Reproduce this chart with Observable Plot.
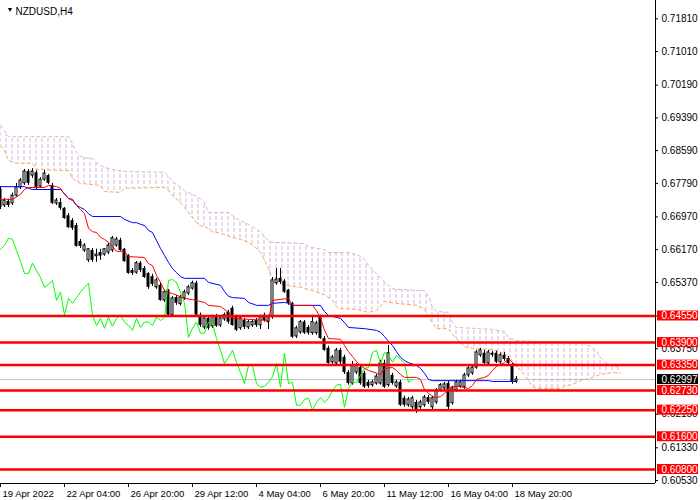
<!DOCTYPE html>
<html><head><meta charset="utf-8">
<script src="https://cdn.jsdelivr.net/npm/d3@7"></script>
<script src="https://cdn.jsdelivr.net/npm/@observablehq/plot@0.6"></script>
<style>
html,body{margin:0;padding:0;background:#fff;}
#chart{width:700px;height:500px;overflow:hidden;}
</style></head><body><div id="chart"></div>
<script>
// ---- Candles (H4 bars, index 0 = 19 Apr 2022 12:00) ----
const open  = [.6764,.6725,.6735,.6730,.6749,.6769,.6779,.6808,.6798,.6805,.6771,.6788,.6798,.6774,.6730,.6732,.6718,.6700,.6688,.6676,.6637,.6615,.6591,.6615,.6601,.6610,.6605,.6610,.6615,.6627,.6640,.6618,.6603,.6566,.6561,.6584,.6571,.6559,.6551,.6525,.6530,.6493,.6518,.6457,.6500,.6484,.6498,.6510,.6522,.6535,.6457,.6427,.6449,.6430,.6452,.6432,.6447,.6464,.6474,.6452,.6425,.6444,.6427,.6432,.6444,.6432,.6457,.6440,.6452,.6535,.6547,.6540,.6518,.6486,.6405,.6415,.6440,.6427,.6413,.6413,.6452,.6400,.6376,.6342,.6339,.6371,.6354,.6317,.6290,.6317,.6329,.6315,.6293,.6286,.6290,.6290,.6339,.6286,.6310,.6283,.6293,.6254,.6237,.6232,.6244,.6232,.6237,.6256,.6232,.6244,.6273,.6278,.6290,.6242,.6273,.6283,.6281,.6310,.6315,.6329,.6359,.6364,.6339,.6364,.6364,.6342,.6359,.6351,.6334,.6295];
const high  = [.6771,.6742,.6740,.6755,.6779,.6791,.6813,.6813,.6815,.6810,.6793,.6810,.6801,.6779,.6742,.6742,.6720,.6705,.6693,.6681,.6642,.6632,.6620,.6620,.6618,.6618,.6620,.6632,.6649,.6647,.6645,.6620,.6605,.6571,.6588,.6588,.6576,.6561,.6557,.6547,.6537,.6518,.6520,.6503,.6505,.6505,.6518,.6530,.6540,.6540,.6462,.6454,.6454,.6457,.6459,.6454,.6462,.6469,.6479,.6457,.6454,.6449,.6444,.6444,.6449,.6457,.6462,.6457,.6549,.6571,.6571,.6544,.6520,.6488,.6430,.6444,.6444,.6432,.6457,.6442,.6457,.6405,.6381,.6359,.6376,.6376,.6359,.6322,.6344,.6339,.6334,.6320,.6298,.6298,.6312,.6347,.6347,.6383,.6315,.6298,.6298,.6259,.6256,.6259,.6249,.6249,.6261,.6261,.6259,.6278,.6290,.6293,.6295,.6283,.6298,.6298,.6315,.6332,.6334,.6371,.6376,.6371,.6371,.6369,.6369,.6364,.6366,.6356,.6339,.6307];
const low   = [.6715,.6720,.6720,.6725,.6745,.6764,.6774,.6774,.6791,.6764,.6767,.6784,.6776,.6727,.6725,.6713,.6691,.6669,.6664,.6623,.6620,.6610,.6586,.6586,.6586,.6591,.6601,.6605,.6610,.6623,.6613,.6586,.6557,.6554,.6557,.6561,.6547,.6520,.6527,.6520,.6491,.6488,.6454,.6454,.6481,.6479,.6493,.6505,.6518,.6454,.6427,.6422,.6420,.6425,.6427,.6427,.6442,.6435,.6430,.6417,.6420,.6422,.6422,.6427,.6427,.6422,.6440,.6422,.6447,.6530,.6532,.6510,.6481,.6400,.6400,.6410,.6410,.6408,.6408,.6408,.6398,.6369,.6337,.6337,.6334,.6337,.6312,.6286,.6286,.6312,.6286,.6278,.6278,.6281,.6286,.6286,.6278,.6281,.6286,.6278,.6234,.6232,.6232,.6227,.6217,.6227,.6232,.6239,.6225,.6239,.6269,.6273,.6225,.6237,.6269,.6278,.6276,.6305,.6310,.6325,.6354,.6334,.6334,.6354,.6339,.6337,.6344,.6334,.6288,.6290];
const close = [.6720,.6737,.6725,.6749,.6769,.6786,.6808,.6779,.6808,.6769,.6788,.6803,.6779,.6730,.6737,.6718,.6693,.6671,.6669,.6625,.6625,.6627,.6618,.6591,.6605,.6601,.6618,.6627,.6645,.6642,.6615,.6588,.6559,.6559,.6584,.6566,.6549,.6525,.6532,.6542,.6493,.6513,.6457,.6498,.6486,.6500,.6513,.6525,.6535,.6457,.6432,.6449,.6425,.6452,.6430,.6449,.6457,.6440,.6432,.6420,.6449,.6427,.6440,.6440,.6432,.6452,.6444,.6452,.6542,.6544,.6537,.6513,.6486,.6403,.6425,.6440,.6413,.6413,.6440,.6437,.6400,.6371,.6339,.6354,.6371,.6342,.6317,.6290,.6334,.6334,.6290,.6281,.6283,.6293,.6307,.6339,.6281,.6364,.6290,.6293,.6237,.6237,.6251,.6254,.6225,.6244,.6256,.6244,.6254,.6273,.6286,.6288,.6232,.6278,.6293,.6293,.6310,.6327,.6329,.6366,.6371,.6339,.6366,.6359,.6342,.6359,.6349,.6339,.6293,.6300];

// ---- Ichimoku lines (bar index, price) ----
const tenkanBars = [0,3,5,6,7,11,12,14,15,16,17,18,19,20,21,22,23,24,25,26,27,28,29,31,32,36,37,38,39,40,41,42,43,46,48,51,52,55,57,58,67,68,72,73,78,79,80,81,82,85,86,87,88,89,90,91,92,95,96,98,99,100,101,104,105,106,107,108,109,110,111,112,113,115,116,117,118,119,121,122,123,124,125,126,127,128,129];
const tenkanVals = [.6740,.6740,.6752,.6764,.6769,.6769,.6774,.6771,.6767,.6752,.6742,.6737,.6725,.6715,.6705,.6669,.6661,.6659,.6647,.6642,.6635,.6625,.6613,.6613,.6600,.6598,.6583,.6578,.6554,.6537,.6517,.6512,.6510,.6498,.6495,.6488,.6481,.6478,.6464,.6449,.6444,.6493,.6498,.6481,.6481,.6468,.6451,.6420,.6400,.6398,.6383,.6368,.6356,.6344,.6334,.6327,.6322,.6312,.6327,.6329,.6322,.6312,.6305,.6305,.6300,.6275,.6266,.6258,.6256,.6258,.6266,.6278,.6283,.6283,.6280,.6278,.6285,.6300,.6305,.6310,.6322,.6332,.6337,.6341,.6351,.6341,.6332];
const kijunBars = [0,6,7,8,15,16,17,18,19,20,21,22,23,30,31,33,34,35,36,37,38,39,40,41,42,43,44,45,46,51,52,55,56,57,58,61,62,64,67,68,71,72,73,80,81,82,83,85,86,87,91,94,95,96,97,98,99,100,101,102,104,105,106,107,108,122,123,129];
const kijunVals = [.6771,.6771,.6767,.6764,.6764,.6754,.6742,.6740,.6725,.6720,.6715,.6705,.6698,.6698,.6691,.6683,.6683,.6679,.6676,.6664,.6659,.6639,.6620,.6603,.6586,.6571,.6561,.6551,.6547,.6547,.6537,.6530,.6515,.6503,.6500,.6498,.6488,.6481,.6481,.6486,.6488,.6486,.6481,.6481,.6466,.6456,.6454,.6449,.6439,.6427,.6424,.6420,.6415,.6405,.6393,.6383,.6368,.6354,.6346,.6341,.6334,.6327,.6315,.6300,.6297,.6297,.6295,.6295];
const spanBBars = [0,1,2,17,18,19,20,21,23,24,25,26,28,30,31,41,42,43,44,45,46,48,50,51,52,57,58,59,61,62,65,66,67,68,76,77,78,81,82,87,89,90,91,92,93,94,95,96,97,98,99,106,107,108,109,112,113,114,120,123,126,127,129,133,145,147,148,149,150,151,152,153,155];
const spanBVals = [.6920,.6908,.6893,.6893,.6876,.6854,.6845,.6842,.6840,.6830,.6823,.6818,.6813,.6810,.6808,.6806,.6796,.6784,.6776,.6769,.6762,.6752,.6742,.6732,.6708,.6708,.6700,.6693,.6683,.6679,.6661,.6649,.6639,.6635,.6632,.6625,.6622,.6617,.6610,.6610,.6605,.6600,.6593,.6578,.6569,.6559,.6549,.6539,.6530,.6522,.6520,.6517,.6503,.6476,.6466,.6464,.6439,.6427,.6424,.6422,.6417,.6402,.6395,.6393,.6390,.6383,.6378,.6368,.6354,.6344,.6337,.6334,.6329];
const spanABars = [0,1,2,4,8,9,17,18,19,20,25,26,30,31,41,42,43,45,46,48,49,50,52,53,55,58,60,62,64,65,66,67,68,71,75,78,81,83,84,85,89,92,94,96,99,104,106,107,108,109,112,113,115,116,118,123,126,128,130,131,132,133,134,140,141,143,145,148,150,153,155];
const spanAVals = [.6871,.6859,.6835,.6828,.6828,.6813,.6810,.6791,.6784,.6779,.6774,.6759,.6757,.6767,.6769,.6762,.6749,.6732,.6720,.6696,.6683,.6676,.6669,.6661,.6657,.6647,.6642,.6635,.6620,.6610,.6591,.6571,.6542,.6530,.6525,.6517,.6507,.6493,.6478,.6473,.6471,.6464,.6468,.6490,.6486,.6481,.6473,.6451,.6439,.6424,.6424,.6410,.6390,.6380,.6376,.6373,.6363,.6346,.6322,.6310,.6297,.6283,.6278,.6278,.6283,.6288,.6297,.6305,.6312,.6317,.6315];
const chikouShift = 26;

// ---- Levels, axis ticks ----
const levels = [0.6455, 0.6390, 0.6335, 0.6273, 0.6225, 0.6160, 0.6080];
const lastPrice = 0.62997;
const yTicks = [0.7181,0.7101,0.7019,0.6939,0.6859,0.6779,0.6697,0.6617,0.6537,0.6455,0.6375,0.6215,0.6133,0.6053];
const xTickBars = [0,16,32,48,64,80,96,112,128];
const xTickLabels = ["19 Apr 2022","22 Apr 04:00","26 Apr 20:00","29 Apr 12:00","4 May 04:00","6 May 20:00","11 May 12:00","16 May 04:00","18 May 20:00"];
const title = "NZDUSD,H4";

// ---- build ----
const yMin = 0.60458, yMax = 0.72257;
const xMin = 0, xMax = 163.75;
const bars = open.map((o, i) => ({i, o, h: high[i], l: low[i], c: close[i]}));
const bull = bars.filter(d => d.c >= d.o);
const bear = bars.filter(d => d.c < d.o);
const pts = (xs, vs) => xs.map((x, k) => ({x, v: vs[k]}));
const tenkan = pts(tenkanBars, tenkanVals);
const kijun = pts(kijunBars, kijunVals);
const spanA = pts(spanABars, spanAVals);
const spanB = pts(spanBBars, spanBVals);
const chikou = close.slice(chikouShift).map((v, j) => ({x: j, v}));
const font = "Liberation Sans, Arial, sans-serif";

const plot = Plot.plot({
  width: 700, height: 500,
  marginLeft: 0, marginRight: 45, marginTop: 0, marginBottom: 17,
  style: {background: "#fff", fontFamily: font, color: "black"},
  x: {type: "linear", domain: [xMin, xMax], axis: null},
  y: {type: "linear", domain: [yMin, yMax], axis: null},
  marks: [
    // cloud
    Plot.areaY(spanB, {x: "x", y1: () => yMin, y2: "v", fill: "url(#cloudHatch)"}),
    Plot.areaY(spanA, {x: "x", y1: () => yMin, y2: "v", fill: "white"}),
    Plot.line(spanB, {x: "x", y: "v", stroke: "#D8B4D8", strokeWidth: 1, strokeDasharray: "3,3"}),
    Plot.line(spanA, {x: "x", y: "v", stroke: "#F4A460", strokeWidth: 1, strokeDasharray: "3,3"}),
    // bid line
    Plot.ruleY([lastPrice], {stroke: "#C0C0C0", strokeWidth: 1}),
    // candles
    Plot.ruleX(bars, {x: "i", y1: "l", y2: "h", stroke: "black", strokeWidth: 1}),
    Plot.rect(bear, {x1: d => d.i - 0.375, x2: d => d.i + 0.375, y1: "o", y2: "c", fill: "black"}),
    Plot.rect(bull, {x1: d => d.i - 0.25, x2: d => d.i + 0.25, y1: "o", y2: "c", fill: "white", stroke: "black", strokeWidth: 1}),
    // indicator lines
    Plot.line(chikou, {x: "x", y: "v", stroke: "#00FF00", strokeWidth: 1}),
    Plot.line(kijun, {x: "x", y: "v", stroke: "#0000FF", strokeWidth: 1}),
    Plot.line(tenkan, {x: "x", y: "v", stroke: "#FF0000", strokeWidth: 1}),
    // horizontal levels
    Plot.ruleY(levels, {stroke: "#FF0000", strokeWidth: 2.5}),
    // frame
    Plot.ruleX([xMax], {stroke: "black", strokeWidth: 1}),
    Plot.ruleY([yMin], {stroke: "black", strokeWidth: 1}),
    // y axis
    Plot.ruleY(yTicks, {x1: () => xMax, x2: () => xMax, insetRight: -3, stroke: "black"}),
    Plot.text(yTicks, {x: () => xMax, y: d => d, dx: 6, text: d => d.toFixed(5), textAnchor: "start", fontSize: 10, fill: "black"}),
    // x axis
    Plot.ruleX(xTickBars, {x: d => d, y1: () => yMin, y2: () => yMin, insetBottom: -4, stroke: "black"}),
    Plot.text(xTickBars, {x: d => d, y: () => yMin, dx: 2, dy: 10, text: (d, i) => xTickLabels[i], textAnchor: "start", fontSize: 9.5, fill: "black"}),
    // level labels
    Plot.rect(levels, {x1: () => xMax, x2: () => xMax, y1: d => d, y2: d => d, insetLeft: 2, insetRight: -43, insetTop: -5, insetBottom: -5, fill: "#FF0000"}),
    Plot.text(levels, {x: () => xMax, y: d => d, dx: 6, text: d => d.toFixed(5), textAnchor: "start", fontSize: 10, fill: "white"}),
    Plot.rect([lastPrice], {x1: () => xMax, x2: () => xMax, y1: d => d, y2: d => d, insetLeft: 2, insetRight: -43, insetTop: -5, insetBottom: -5, fill: "black"}),
    Plot.text([lastPrice], {x: () => xMax, y: d => d, dx: 6, text: d => d.toFixed(5), textAnchor: "start", fontSize: 10, fill: "white"}),
    // title
    Plot.text(["\u25BC"], {frameAnchor: "top-left", dx: 6, dy: 7, fontSize: 7, fill: "black"}),
    Plot.text([title], {frameAnchor: "top-left", dx: 15, dy: 7.5, textAnchor: "start", fontSize: 10, fill: "black"})
  ]
});

// hatch pattern for the cloud (vertical dotted strokes)
d3.select(plot).insert("defs", ":first-child").html(
  '<pattern id="cloudHatch" patternUnits="userSpaceOnUse" width="6" height="6" patternTransform="translate(-0.5,0)">' +
  '<rect x="0" y="0" width="1" height="4" fill="#D8B4D8"/></pattern>');

document.getElementById("chart").appendChild(plot);
</script>
</body></html>
